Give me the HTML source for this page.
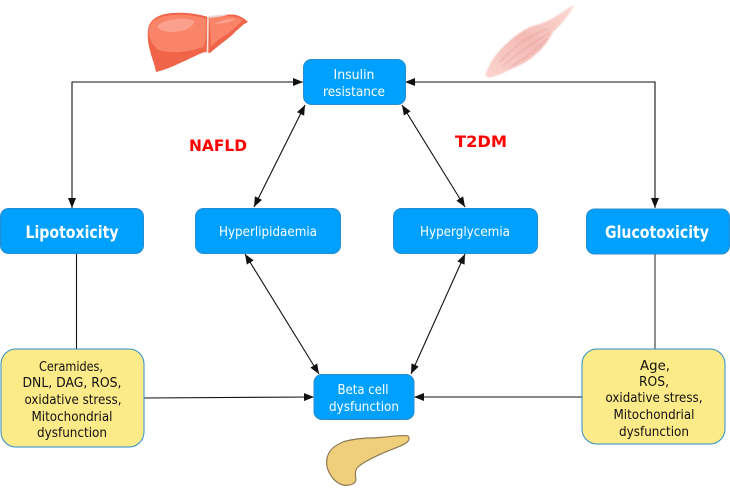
<!DOCTYPE html>
<html><head><meta charset="utf-8"><style>
html,body{margin:0;padding:0;background:#fff}
svg{display:block}
text{font-family:"DejaVu Sans","Liberation Sans",sans-serif;text-anchor:middle}
.w{fill:#fff;font-size:13.5px}
.b{fill:#fff;font-size:16.5px;font-weight:bold}
.k{fill:#111;font-size:13.5px}
.r{fill:#f00;font-size:16px;font-weight:bold}
.box{fill:#00a0ff;stroke:#2a8ccc;stroke-width:1}
.y{fill:#fdea88;stroke:#2a8fc8;stroke-width:1}
.l{stroke:#111;stroke-width:1.1;fill:none}
</style></head><body>
<svg width="730" height="490" viewBox="0 0 730 490" xmlns="http://www.w3.org/2000/svg">
<defs>
<marker id="a" viewBox="0 0 10 8" refX="10" refY="4" markerWidth="10" markerHeight="8" markerUnits="userSpaceOnUse" orient="auto-start-reverse"><path d="M0 0L10 4L0 8z" fill="#111"/></marker>
<linearGradient id="m" x1="0" y1="1" x2="1" y2="0"><stop offset="0" stop-color="#fbd5d0"/><stop offset=".5" stop-color="#f4b9b4"/><stop offset="1" stop-color="#fbdcd6"/></linearGradient>
<filter id="bl"><feGaussianBlur stdDeviation="0.7"/></filter>
</defs>

<!-- liver -->
<path d="M148 30C149 20 158 14 172 13C188 12 198 14 208 17L230 14.500C238 14 244 18 248 22C243 24 240 28 236 31C230 38 220 44 210 53L205 52C196 55 190 59 180 63C172 67 164 70 156 72C154 60 146 46 148 30Z" fill="#f0654a"/>
<path d="M149 30C150 21 158 16 172 15C188 14 200 16 206 19C207 30 206 42 203 47C190 52 172 54 158 50C152 44 148 38 149 30Z" fill="#f98468"/>
<path d="M209 18C222 16 236 15 243 20C238 24 232 32 224 36C218 40 214 43 211 47C211 38 210 28 209 18Z" fill="#f98468"/>
<path d="M208 17L207.500 53" stroke="#f3e2da" stroke-width="1.6" fill="none"/>
<path d="M208 16L230 14L224 16L210 18Z" fill="#e9dcd5"/>
<path d="M158 25C168 18 188 17 194 21C194 27 186 31 174 32C164 32 157 30 158 25Z" fill="#fba08c"/>
<path d="M214 24C222 20 232 18 235 19C232 22 222 24 214 24Z" fill="#fba08c"/>

<!-- muscle -->
<g filter="url(#bl)">
<path d="M485 75C490 62 496 54 503 47C512 38 520 32 530 27C540 24 546 22 553 18C560 14 566 9 574 5C572 12 562 24 553 32C548 42 543 48 537 53C530 60 522 65 513 68C505 72 497 76 489 78Z" fill="url(#m)"/>
<path d="M500 62C515 45 530 35 548 29M503 66C518 52 535 42 549 33M508 69C522 60 538 48 548 38" stroke="#e29c97" stroke-width="1" fill="none" opacity=".7"/>
</g>

<!-- pancreas -->
<path d="M408 436C403 434 385 438 367 438C355 439 348 440 343 442C336 445 331 449 329 453C326 458 326 465 328 470C331 477 336 483 343 485C350 486 355 484 356 480C355 474 355 470 358 467C362 463 372 458 383 453C392 449 402 446 406 443C409 441 410 438 408 436Z" fill="#efcf7c" stroke="#8e7a52" stroke-width="1.2"/>

<!-- connectors -->
<path class="l" d="M303 82H72V208" marker-start="url(#a)" marker-end="url(#a)"/>
<path class="l" d="M405 82H655V208" marker-start="url(#a)" marker-end="url(#a)"/>
<path class="l" d="M76.500 254V349"/>
<path d="M655 254V349" stroke="#333" stroke-width="1.1"/>
<path class="l" d="M305 105L254 207" marker-start="url(#a)" marker-end="url(#a)"/>
<path class="l" d="M402 105L465 207" marker-start="url(#a)" marker-end="url(#a)"/>
<path class="l" d="M245 254L319 374" marker-start="url(#a)" marker-end="url(#a)"/>
<path class="l" d="M465 254L411 374" marker-start="url(#a)" marker-end="url(#a)"/>
<path class="l" d="M144 398L314 397" marker-end="url(#a)"/>
<path class="l" d="M582 397H414" marker-end="url(#a)"/>

<!-- boxes -->
<rect class="box" x="303.500" y="59.500" width="102" height="45" rx="8"/>
<rect class="box" x="0.500" y="208.500" width="143" height="45" rx="8"/>
<rect class="box" x="195.500" y="208.500" width="145" height="45" rx="8"/>
<rect class="box" x="393.500" y="208.500" width="144" height="45" rx="8"/>
<rect class="box" x="586.500" y="209" width="143" height="45" rx="8"/>
<rect class="box" x="314" y="374.500" width="100" height="45" rx="8"/>
<rect class="y" x="1" y="349" width="143" height="98" rx="15"/>
<rect class="y" x="582" y="349" width="143" height="95" rx="15"/>

<!-- labels -->
<text class="w" x="354" y="79" textLength="41" lengthAdjust="spacingAndGlyphs">Insulin</text>
<text class="w" x="354" y="96" textLength="62" lengthAdjust="spacingAndGlyphs">resistance</text>
<text class="b" x="72" y="238" textLength="93" lengthAdjust="spacingAndGlyphs">Lipotoxicity</text>
<text class="w" x="268" y="236" textLength="98" lengthAdjust="spacingAndGlyphs">Hyperlipidaemia</text>
<text class="w" x="465" y="236" textLength="90" lengthAdjust="spacingAndGlyphs">Hyperglycemia</text>
<text class="b" x="657" y="238" textLength="104" lengthAdjust="spacingAndGlyphs">Glucotoxicity</text>
<text class="w" x="363" y="394" textLength="51" lengthAdjust="spacingAndGlyphs">Beta cell</text>
<text class="w" x="364" y="411" textLength="70" lengthAdjust="spacingAndGlyphs">dysfunction</text>
<text class="r" x="218" y="151" textLength="58" lengthAdjust="spacingAndGlyphs">NAFLD</text>
<text class="r" x="481" y="147" textLength="52" lengthAdjust="spacingAndGlyphs">T2DM</text>

<text class="k" x="71" y="371" textLength="64" lengthAdjust="spacingAndGlyphs">Ceramides,</text>
<text class="k" x="72" y="387" textLength="99" lengthAdjust="spacingAndGlyphs">DNL, DAG, ROS,</text>
<text class="k" x="73" y="404" textLength="97" lengthAdjust="spacingAndGlyphs">oxidative stress,</text>
<text class="k" x="72" y="421" textLength="81" lengthAdjust="spacingAndGlyphs">Mitochondrial</text>
<text class="k" x="72" y="437" textLength="70" lengthAdjust="spacingAndGlyphs">dysfunction</text>

<text class="k" x="655" y="370" textLength="30" lengthAdjust="spacingAndGlyphs">Age,</text>
<text class="k" x="654" y="386" textLength="30" lengthAdjust="spacingAndGlyphs">ROS,</text>
<text class="k" x="654" y="402" textLength="97" lengthAdjust="spacingAndGlyphs">oxidative stress,</text>
<text class="k" x="654" y="419" textLength="81" lengthAdjust="spacingAndGlyphs">Mitochondrial</text>
<text class="k" x="654" y="436" textLength="70" lengthAdjust="spacingAndGlyphs">dysfunction</text>
</svg>
</body></html>
